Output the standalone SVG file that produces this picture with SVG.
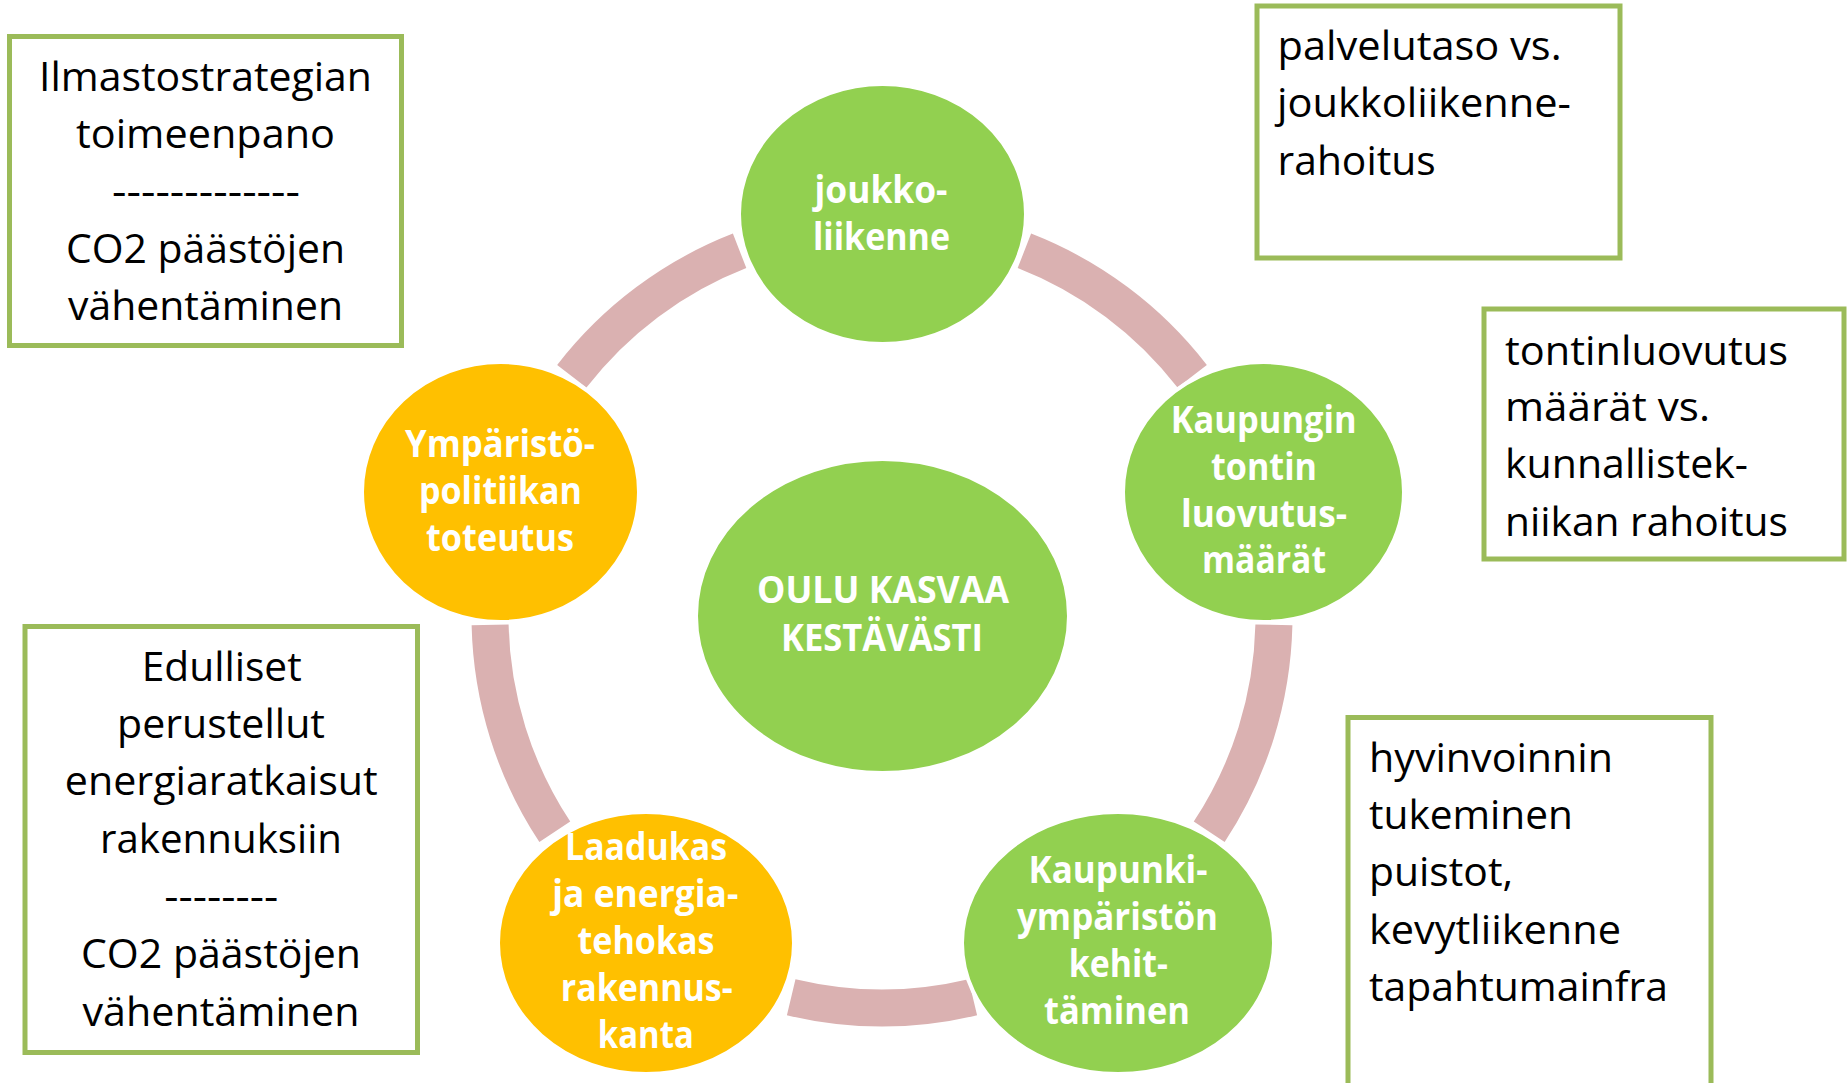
<svg xmlns="http://www.w3.org/2000/svg" width="1847" height="1083" viewBox="0 0 1847 1083">
<style>
.bx{fill:#fff;stroke:#9BBB59;stroke-width:5}
.bt{font-family:"Open Sans","Noto Sans","Liberation Sans",sans-serif;font-size:41px;fill:#000}
.c{text-anchor:middle}
.nt{font-family:"Open Sans","Noto Sans","Liberation Sans",sans-serif;font-size:38px;font-weight:bold;fill:#fff;text-anchor:middle}
.g{fill:#92D050;stroke:#fff;stroke-width:4}
.o{fill:#FFC000;stroke:#fff;stroke-width:4}
.arc{fill:none;stroke:#DAB1B1;stroke-width:37;stroke-linecap:butt}
</style>
<rect width="1847" height="1083" fill="#fff"/>
<g id="connectors">
<path class="arc" d="M1024.4,250.8 A392,392 0 0 1 1192.2,376.3"/>
<path class="arc" d="M1273.9,624.9 A392,392 0 0 1 1209.2,831.8"/>
<path class="arc" d="M972.8,997.3 A392,392 0 0 1 791.2,997.3"/>
<path class="arc" d="M554.8,831.8 A392,392 0 0 1 490.1,624.9"/>
<path class="arc" d="M571.8,376.3 A392,392 0 0 1 739.6,250.8"/>
</g>
<g id="node-center">
<ellipse class="g" cx="882.5" cy="616" rx="186.5" ry="157"/>
<text class="nt" x="883" y="603" textLength="252" lengthAdjust="spacingAndGlyphs">OULU KASVAA</text>
<text class="nt" x="882" y="651" textLength="202" lengthAdjust="spacingAndGlyphs">KESTÄVÄSTI</text>
</g>
<g id="node-joukkoliikenne">
<ellipse class="g" cx="882.5" cy="214" rx="143.5" ry="130"/>
<text class="nt" x="881" y="203" textLength="133" lengthAdjust="spacingAndGlyphs">joukko-</text>
<text class="nt" x="881.5" y="250" textLength="137" lengthAdjust="spacingAndGlyphs">liikenne</text>
</g>
<g id="node-tontti">
<ellipse class="g" cx="1263.5" cy="492" rx="140.5" ry="130"/>
<text class="nt" x="1263.7" y="433" textLength="186" lengthAdjust="spacingAndGlyphs">Kaupungin</text>
<text class="nt" x="1264" y="480" textLength="106" lengthAdjust="spacingAndGlyphs">tontin</text>
<text class="nt" x="1264" y="527" textLength="166" lengthAdjust="spacingAndGlyphs">luovutus-</text>
<text class="nt" x="1264" y="573" textLength="124" lengthAdjust="spacingAndGlyphs">määrät</text>
</g>
<g id="node-kaupunkiymparisto">
<ellipse class="g" cx="1118" cy="943" rx="156" ry="131"/>
<text class="nt" x="1118" y="883" textLength="179" lengthAdjust="spacingAndGlyphs">Kaupunki-</text>
<text class="nt" x="1117.5" y="930" textLength="201" lengthAdjust="spacingAndGlyphs">ympäristön</text>
<text class="nt" x="1118.3" y="977" textLength="99" lengthAdjust="spacingAndGlyphs">kehit-</text>
<text class="nt" x="1117" y="1024" textLength="146" lengthAdjust="spacingAndGlyphs">täminen</text>
</g>
<g id="node-rakennuskanta">
<ellipse class="o" cx="646" cy="943" rx="148" ry="131"/>
<text class="nt" x="646" y="860" textLength="162" lengthAdjust="spacingAndGlyphs">Laadukas</text>
<text class="nt" x="645.3" y="907" textLength="186" lengthAdjust="spacingAndGlyphs">ja energia-</text>
<text class="nt" x="646" y="954" textLength="137" lengthAdjust="spacingAndGlyphs">tehokas</text>
<text class="nt" x="646.7" y="1001" textLength="172" lengthAdjust="spacingAndGlyphs">rakennus-</text>
<text class="nt" x="645.8" y="1048" textLength="96" lengthAdjust="spacingAndGlyphs">kanta</text>
</g>
<g id="node-ymparistopolitiikka">
<ellipse class="o" cx="500.5" cy="492" rx="138.5" ry="130"/>
<text class="nt" x="500" y="457" textLength="190" lengthAdjust="spacingAndGlyphs">Ympäristö-</text>
<text class="nt" x="500.5" y="504" textLength="163" lengthAdjust="spacingAndGlyphs">politiikan</text>
<text class="nt" x="500" y="551" textLength="148" lengthAdjust="spacingAndGlyphs">toteutus</text>
</g>
<g id="box-ilmasto">
<rect class="bx" x="9.5" y="36.5" width="392" height="309"/>
<text class="bt c" x="205.5" y="91" textLength="333" lengthAdjust="spacingAndGlyphs">Ilmastostrategian</text>
<text class="bt c" x="205.5" y="148" textLength="259" lengthAdjust="spacingAndGlyphs">toimeenpano</text>
<text class="bt c" x="206" y="205" textLength="188" lengthAdjust="spacingAndGlyphs">-------------</text>
<text class="bt c" x="205.5" y="263" textLength="279" lengthAdjust="spacingAndGlyphs">CO2 päästöjen</text>
<text class="bt c" x="205.5" y="320" textLength="275" lengthAdjust="spacingAndGlyphs">vähentäminen</text>
</g>
<g id="box-palvelutaso">
<rect class="bx" x="1257" y="6" width="363" height="252"/>
<text class="bt" x="1277.6" y="60" textLength="284" lengthAdjust="spacingAndGlyphs">palvelutaso vs.</text>
<text class="bt" x="1277" y="117" textLength="294" lengthAdjust="spacingAndGlyphs">joukkoliikenne-</text>
<text class="bt" x="1277.6" y="175" textLength="158" lengthAdjust="spacingAndGlyphs">rahoitus</text>
</g>
<g id="box-tontinluovutus">
<rect class="bx" x="1484" y="309" width="360" height="250"/>
<text class="bt" x="1505" y="365" textLength="283" lengthAdjust="spacingAndGlyphs">tontinluovutus</text>
<text class="bt" x="1505" y="421" textLength="205" lengthAdjust="spacingAndGlyphs">määrät vs.</text>
<text class="bt" x="1505" y="478" textLength="243" lengthAdjust="spacingAndGlyphs">kunnallistek-</text>
<text class="bt" x="1505" y="536" textLength="283" lengthAdjust="spacingAndGlyphs">niikan rahoitus</text>
</g>
<g id="box-hyvinvointi">
<rect class="bx" x="1348" y="717.5" width="363" height="420"/>
<text class="bt" x="1369" y="772" textLength="244" lengthAdjust="spacingAndGlyphs">hyvinvoinnin</text>
<text class="bt" x="1369" y="829" textLength="204" lengthAdjust="spacingAndGlyphs">tukeminen</text>
<text class="bt" x="1369" y="886" textLength="144" lengthAdjust="spacingAndGlyphs">puistot,</text>
<text class="bt" x="1369" y="944" textLength="252" lengthAdjust="spacingAndGlyphs">kevytliikenne</text>
<text class="bt" x="1369" y="1001" textLength="299" lengthAdjust="spacingAndGlyphs">tapahtumainfra</text>
</g>
<g id="box-energia">
<rect class="bx" x="25" y="626.5" width="392.5" height="426"/>
<text class="bt c" x="221.7" y="681" textLength="160" lengthAdjust="spacingAndGlyphs">Edulliset</text>
<text class="bt c" x="221" y="738" textLength="208" lengthAdjust="spacingAndGlyphs">perustellut</text>
<text class="bt c" x="221.3" y="795" textLength="313" lengthAdjust="spacingAndGlyphs">energiaratkaisut</text>
<text class="bt c" x="221" y="853" textLength="242" lengthAdjust="spacingAndGlyphs">rakennuksiin</text>
<text class="bt c" x="221.3" y="910" textLength="114" lengthAdjust="spacingAndGlyphs">--------</text>
<text class="bt c" x="221" y="968" textLength="280" lengthAdjust="spacingAndGlyphs">CO2 päästöjen</text>
<text class="bt c" x="221" y="1026" textLength="277" lengthAdjust="spacingAndGlyphs">vähentäminen</text>
</g>
</svg>
